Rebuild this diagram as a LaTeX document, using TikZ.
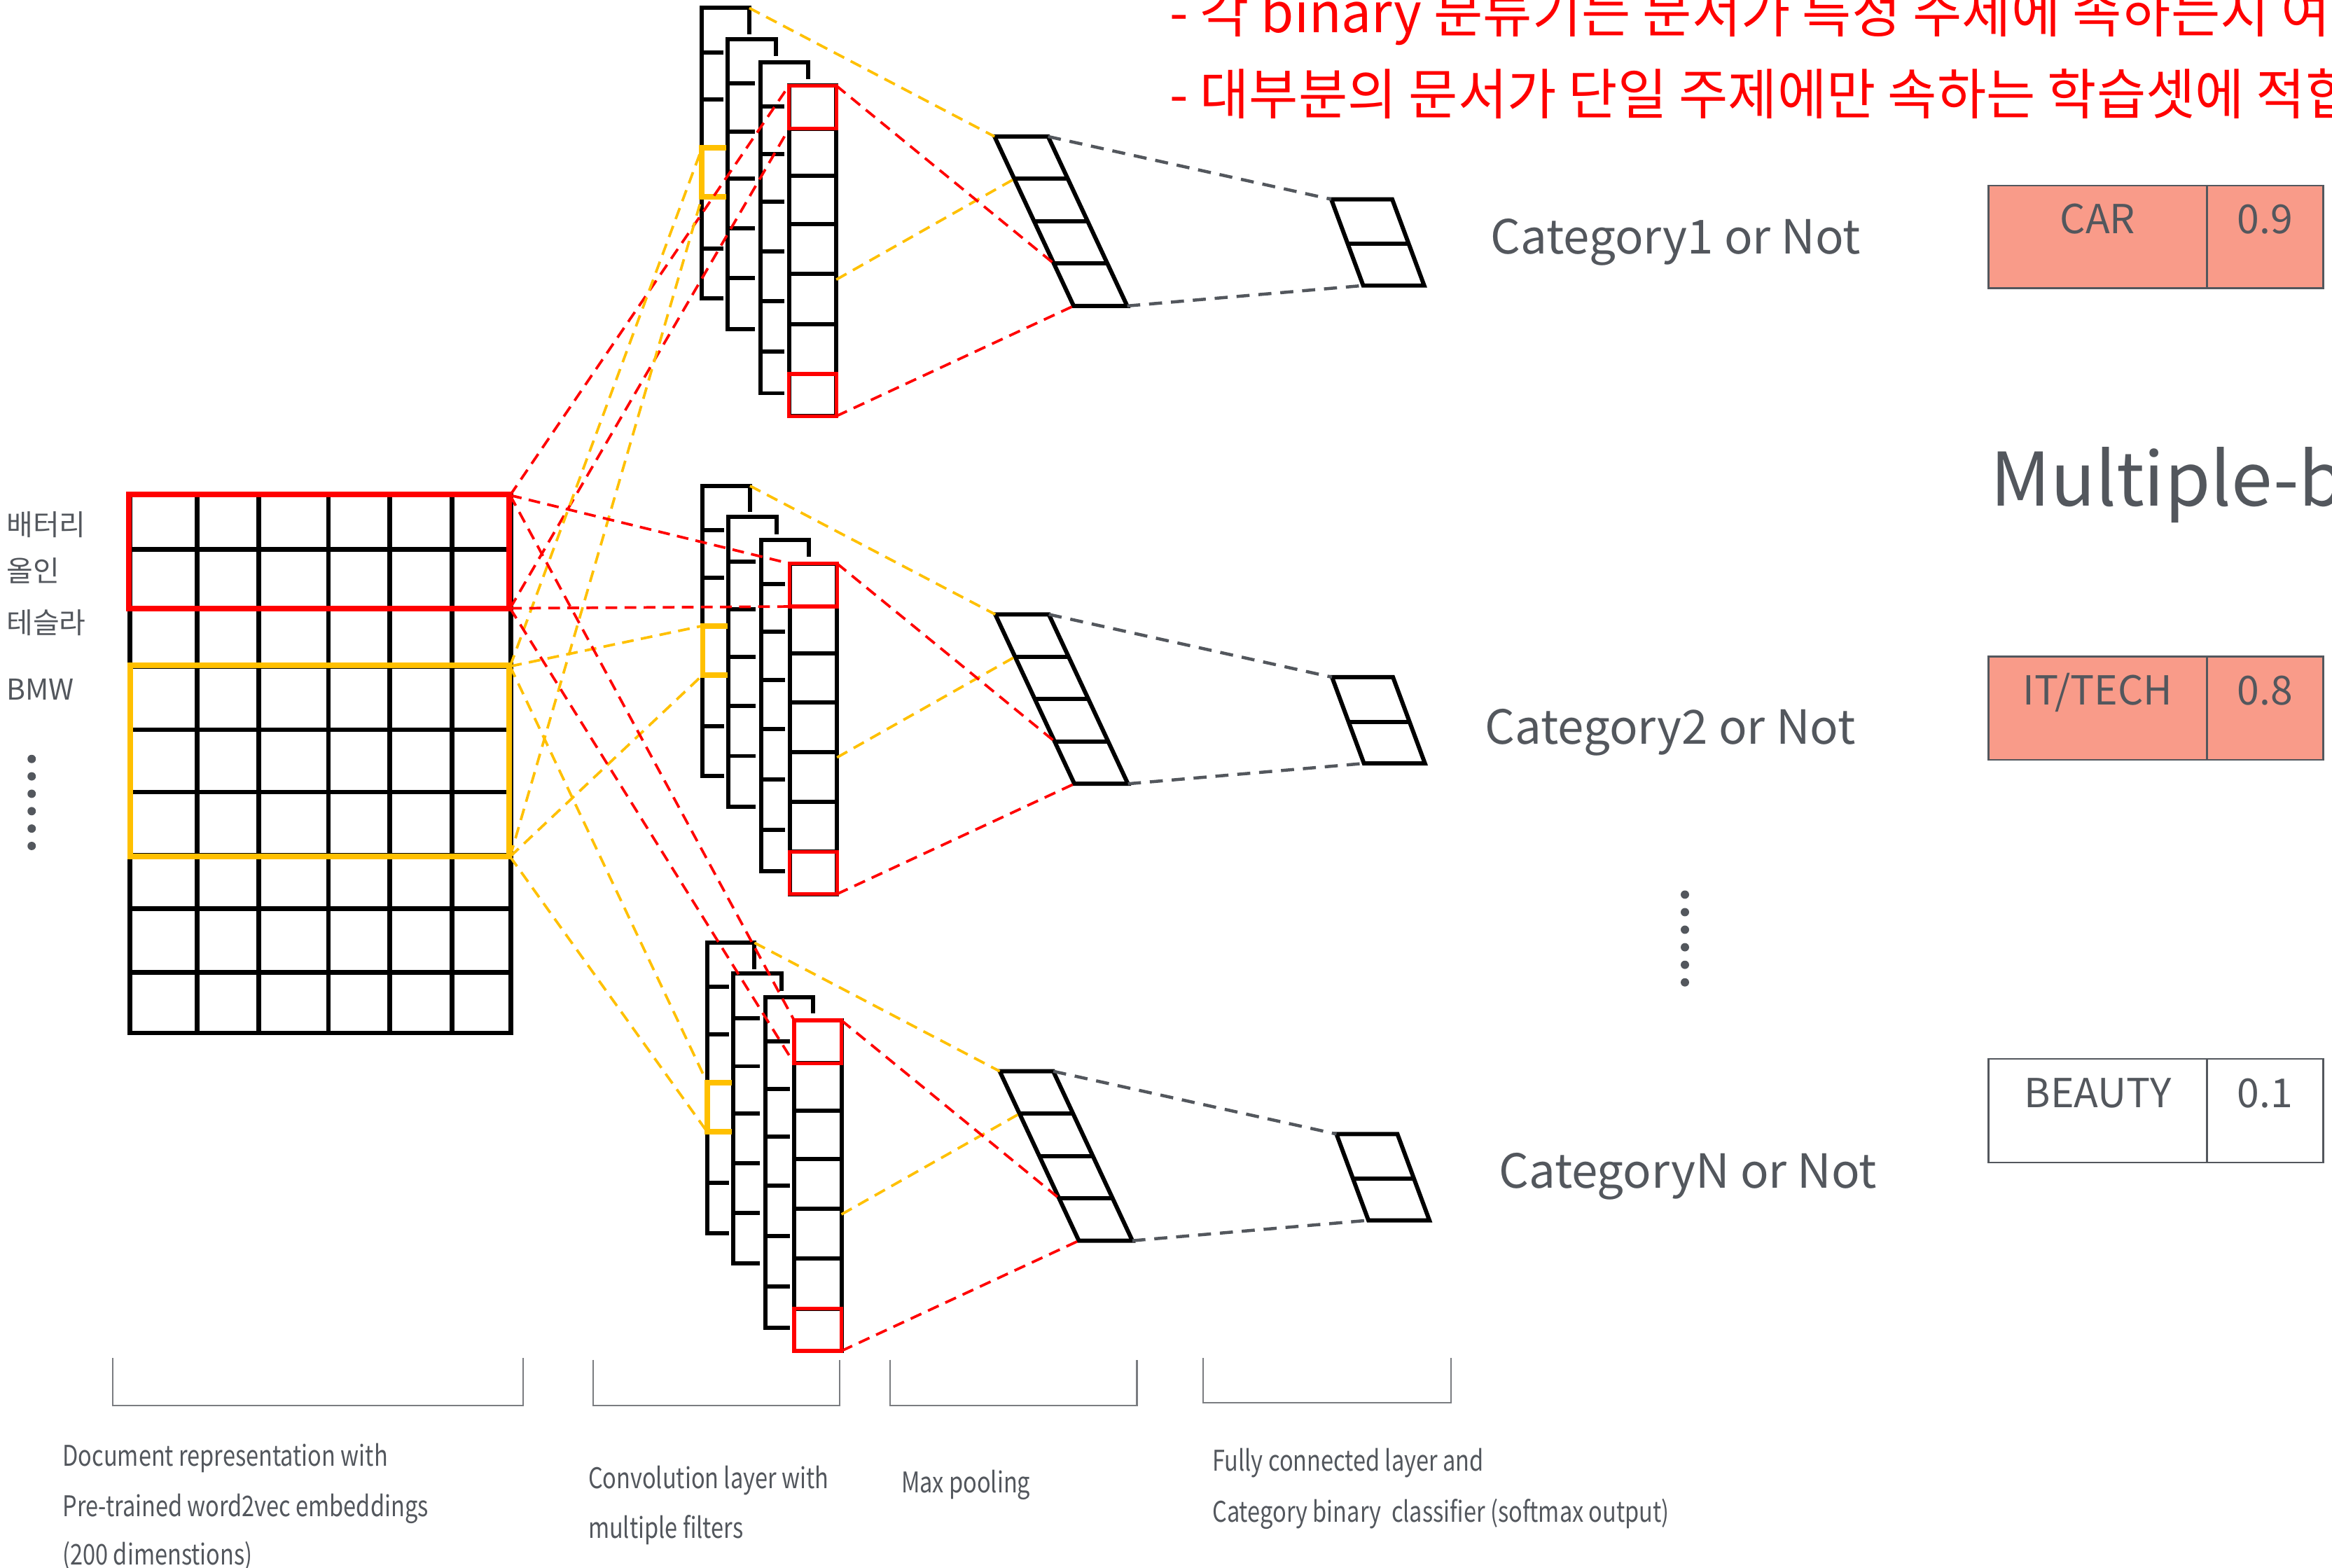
\documentclass[tikz,border=0pt]{standalone}
\usepackage{fontspec}
\setmainfont{Noto Sans CJK KR}
\newfontfamily\notefont[FakeStretch=0.975]{Noto Sans CJK KR}
\newfontfamily\capfont[FakeStretch=0.8]{Noto Sans CJK KR}
\usetikzlibrary{positioning}
\definecolor{txtgray}{HTML}{53575D}
\definecolor{boxsalmon}{HTML}{F99B89}
\definecolor{amber}{HTML}{FFC000}
\definecolor{brkgray}{HTML}{7A7C80}
\tikzstyle{gridline}=[line width=1.8pt,line cap=rect]
\tikzstyle{convline}=[line width=1.6pt]
\tikzstyle{redbox}=[draw=red,line width=2.1pt]
\tikzstyle{ylwbox}=[draw=amber,line width=2.1pt]
\tikzstyle{reddash}=[red,line width=1pt,dash pattern=on 4.5pt off 2.8pt]
\tikzstyle{ylwdash}=[amber,line width=1pt,dash pattern=on 4.5pt off 2.8pt]
\tikzstyle{greydash}=[txtgray,line width=1.2pt,dash pattern=on 5pt off 3.4pt]
\tikzstyle{resbox}=[draw=txtgray,line width=0.7pt]
\tikzstyle{brk}=[brkgray,line width=0.6pt]
\tikzstyle{every node}=[inner sep=0pt,text=txtgray]
\tikzstyle{word}=[font=\fontsize{11}{13}\selectfont,anchor=base west]
\tikzstyle{cattxt}=[font=\fontsize{18}{22}\selectfont,anchor=base west]
\tikzstyle{restxt}=[font=\fontsize{15.3}{18}\selectfont,anchor=base]
\tikzstyle{captxt}=[font=\capfont\fontsize{10.9}{13}\selectfont,anchor=base west]
\tikzstyle{notetxt}=[font=\notefont\fontsize{21}{25}\selectfont,text=red,anchor=base west]

\begin{document}
\begin{tikzpicture}[x=0.02cm,y=-0.02cm]
    \useasboundingbox (0,0) rectangle (1568,1054);
    \clip (0,0) rectangle (1568,1054);

    % notes on top
    \node[notetxt] (note1) at (786,22) {- 각 binary 분류기는 문서가 특정 주제에 속하는지 여부};
    \node[notetxt] (note2) at (786,77) {- 대부분의 문서가 단일 주제에만 속하는 학습셋에 적합};

    % input words
    \node[word] (w1) at (4,360) {배터리};
    \node[word] (w2) at (4,391) {올인};
    \node[word] (w3) at (4,426) {테슬라};
    \node[word] (w4) at (4,470.5) {BMW};
    \foreach \i in {0,...,5}
        \fill[txtgray] (21.3,510.3+11.7*\i) circle[radius=1.6pt];

    % document matrix
    \foreach \x in {87.4,132.4,173.9,220.9,262,304,343.5}
        \draw[gridline] (\x,332.5) -- (\x,694.5);
    \foreach \y in {332.5,369.5,408.9,448.3,490.6,532.5,575.1,610.8,653.9,694.5}
        \draw[gridline] (87.4,\y) -- (343.5,\y);
    \draw[redbox] (86.5,332.5) rectangle (342.5,409);
    \draw[ylwbox] (87.5,447.5) rectangle (342.5,576);
    \coordinate (rb-ne) at (343,333);
    \coordinate (rb-se) at (343,409);
    \coordinate (yb-ne) at (343,448);
    \coordinate (yb-se) at (343,576);

    % one branch per category
    \foreach \b/\dx/\dy in {1/0/0,2/0.5/321.3,3/3.5/628.5}{
    \begin{scope}[shift={(\dx,\dy)}]
        % filters
        \draw[convline] (486.6,200.6) -- (472,200.6) -- (472,5.4) -- (503.8,5.4) -- (503.8,23);
        \foreach \t in {35.1,67,167} \draw[convline] (472,\t) -- (486.6,\t);
        \draw[convline] (507.4,221.1) -- (489.4,221.1) -- (489.4,26.2) -- (521.9,26.2) -- (521.9,37.8);
        \foreach \t in {56.2,88.4,120.3,153.5,187} \draw[convline] (489.4,\t) -- (507.4,\t);
        \draw[convline] (527.4,264.4) -- (511.2,264.4) -- (511.2,41.9) -- (543.2,41.9) -- (543.2,53);
        \foreach \t in {71.6,103.5,135.7,168.9,202.7,236.5} \draw[convline] (511.2,\t) -- (527.4,\t);
        \draw[convline] (530.5,57.6) rectangle (562.3,279.8);
        \foreach \t in {86.5,118.2,150.8,184.3,217.8,251.4} \draw[convline] (530.5,\t) -- (562.3,\t);
        \draw[redbox,line width=1.4pt] (530.5,57.6) rectangle (562.3,86.5);
        \draw[redbox,line width=1.4pt] (530.5,251.4) rectangle (562.3,279.8);
        \draw[ylwbox] (488.5,99.5) -- (472,99.5) -- (472,132.5) -- (488.5,132.5);
        \coordinate (s\b-rtl) at (530.5,57.6);
        \coordinate (s\b-rbl) at (530.5,86.5);
        \coordinate (s\b-ytl) at (472,99.5);
        \coordinate (s\b-ybl) at (472,132.5);
        \coordinate (s\b-stub) at (503.8,5.4);
        \coordinate (s\b-ytap) at (562.3,188);
        \coordinate (s\b-rtop) at (562.3,57.6);
        \coordinate (s\b-rbot) at (562.3,279.8);

        % max pooling
        \draw[convline] (668.7,91.8) -- (704.7,91.8) -- (757.9,205.7) -- (721.9,205.7) -- cycle;
        \draw[convline] (682,120.3) -- (718,120.3);
        \draw[convline] (695.3,148.8) -- (731.3,148.8);
        \draw[convline] (708.6,177.2) -- (744.6,177.2);
        \coordinate (p\b-tl) at (668.7,91.8);
        \coordinate (p\b-tr) at (704.7,91.8);
        \coordinate (p\b-bl) at (721.9,205.7);
        \coordinate (p\b-br) at (757.9,205.7);
        \coordinate (p\b-l1) at (682,120.3);
        \coordinate (p\b-l3) at (708.6,177.2);

        % fully connected
        \draw[convline] (895.1,134) -- (936.1,134) -- (957.6,192) -- (916.6,192) -- cycle;
        \draw[convline] (906.2,164) -- (947.2,164);
        \coordinate (f\b-tl) at (895.1,134);
        \coordinate (f\b-bl) at (916.6,192);
    \end{scope}
    }

    % connections
    \foreach \b in {1,2,3}{
        \draw[reddash] (rb-ne) -- (s\b-rtl);
        \draw[reddash] (rb-se) -- (s\b-rbl);
        \draw[ylwdash] (yb-ne) -- (s\b-ytl);
        \draw[ylwdash] (yb-se) -- (s\b-ybl);
        \draw[ylwdash] (s\b-stub) -- (p\b-tl);
        \draw[ylwdash] (s\b-ytap) -- (p\b-l1);
        \draw[reddash] (s\b-rtop) -- (p\b-l3);
        \draw[reddash] (s\b-rbot) -- (p\b-bl);
        \draw[greydash] (p\b-tr) -- (f\b-tl);
        \draw[greydash] (p\b-br) -- (f\b-bl);
    }

    % categories
    \node[cattxt] (cat1) at (1002,170.8) {Category1 or Not};
    \node[cattxt] (cat2) at (998.3,500.2) {Category2 or Not};
    \node[cattxt] (catn) at (1007.5,798.6) {CategoryN or Not};
    \foreach \i in {0,...,5}
        \fill[txtgray] (1132.9,601.5+11.8*\i) circle[radius=1.6pt];
    \node[font=\fontsize{28.3}{34}\selectfont,anchor=base west] (multi) at (1338,340.3) {Multiple-binary};

    % results
    \draw[resbox,fill=boxsalmon] (1337,124.8) rectangle (1562,193.8);
    \draw[resbox] (1484,124.8) -- (1484,193.8);
    \node[restxt] (res1) at (1410.5,157) {CAR};
    \node[restxt] (val1) at (1523,157) {0.9};
    \draw[resbox,fill=boxsalmon] (1337,441.3) rectangle (1562,510.8);
    \draw[resbox] (1484,441.3) -- (1484,510.8);
    \node[restxt] (res2) at (1410.5,473.7) {IT/TECH};
    \node[restxt] (val2) at (1523,473.7) {0.8};
    \draw[resbox,fill=white] (1337,712) rectangle (1562,781.7);
    \draw[resbox] (1484,712) -- (1484,781.7);
    \node[restxt] (res3) at (1410.5,744.5) {BEAUTY};
    \node[restxt] (val3) at (1523,744.5) {0.1};

    % layer brackets
    \draw[brk] (75.7,913.2) -- (75.7,944.9) -- (351.9,944.9) -- (351.9,913.2);
    \draw[brk] (398.8,914.3) -- (398.8,944.9) -- (564.6,944.9) -- (564.6,914.3);
    \draw[brk] (598.5,914.3) -- (598.5,944.9) -- (764.4,944.9) -- (764.4,914.3);
    \draw[brk] (809.1,913.2) -- (809.1,943.3) -- (975.6,943.3) -- (975.6,913.2);
    \node[captxt] (cap1a) at (41.8,985.7) {Document representation with};
    \node[captxt] (cap1b) at (41.8,1019.5) {Pre-trained word2vec embeddings};
    \node[captxt] (cap1c) at (41.8,1052) {(200 dimenstions)};
    \node[captxt] (cap2a) at (395.2,1000.6) {Convolution layer with};
    \node[captxt] (cap2b) at (395.2,1034.4) {multiple filters};
    \node[captxt] (cap3) at (605.7,1003.8) {Max pooling};
    \node[captxt] (cap4a) at (814.9,988.9) {Fully connected layer and};
    \node[captxt] (cap4b) at (814.9,1023.4) {Category binary~ classifier (softmax output)};
\end{tikzpicture}
\end{document}
